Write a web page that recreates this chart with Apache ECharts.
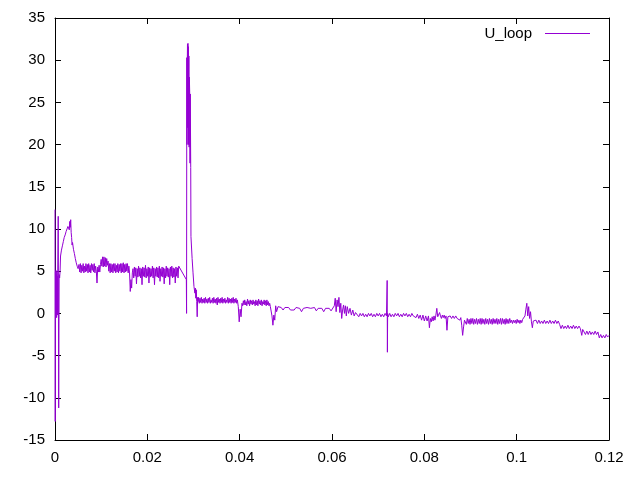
<!DOCTYPE html>
<html>
<head>
<meta charset="utf-8">
<script src="https://cdn.jsdelivr.net/npm/echarts@6/dist/echarts.min.js"></script>
<style>
html,body{margin:0;padding:0;background:#fff;}
#chart{width:640px;height:480px;}
</style>
</head>
<body>
<div id="chart"></div>
<script>
// Series name
const seriesName = 'U_loop';

// Tick labels
const xTickLabels = ['0', '0.02', '0.04', '0.06', '0.08', '0.1', '0.12'];
const yTickLabels = ['-15', '-10', '-5', '0', '5', '10', '15', '20', '25', '30', '35'];

// ---- Data: [time, U_loop] pairs, and sampled runs (start time, sample step, values) ----
const segStart = [
  [0,12.3],[0.00005,-12.8],[0.0001,4.9],[0.00015,-0.4],[0.0002,5.1],[0.00025,0.2],
  [0.0003,4.6],[0.00035,-0.5],[0.0004,5.0],[0.00045,0.8],[0.0005,4.4],[0.00055,-0.2],
  [0.0006,4.8],[0.0007,11.5],[0.0008,-11.2],[0.0009,4.6],[0.001,4.2],[0.0011,5.0],
  [0.0012,6.8],[0.0014,7.5],[0.0016,8.0],[0.0018,8.5],[0.002,9.0],[0.0022,9.3],
  [0.0024,9.7],[0.0026,10.0],[0.0028,10.3],[0.003,10.5],[0.0031,9.9],[0.0032,10.9],
  [0.0033,10.2],[0.0034,11.1],[0.0035,9.6],[0.0036,9.0],[0.0037,8.1],[0.0038,8.4],
  [0.004,7.6],[0.0042,7.1],[0.0044,6.5],[0.0046,6.0],[0.0048,5.6],[0.005,5.3]
];

const plateauStart = 0.0052, plateauStep = 0.00015;
const plateauValues = [
  5.8,4.9,5.9,4.8,5.7,5.0,5.9,4.8,5.6,4.9,5.9,5.0,5.8,4.8,5.9,4.9,5.7,4.8,5.9,5.1,5.8,4.9,5.9,4.8,5.6,5.0,
  3.6,5.5,4.9,5.7,4.9,5.8,
  6.4,5.6,6.7,5.5,6.7,5.6,6.6,5.5,6.5,5.7,6.2,
  5.0,5.9,4.8,5.9,4.9,5.8,4.8,5.9,5.0,5.9,4.8,5.7,4.9,5.9,4.8,5.8,5.0,5.9,4.8,5.9,4.9,6.0,4.8,5.8,4.9,5.9,5.0,5.9,4.8,5.6,
  4.8,2.6,4.0,3.0,4.8,
  5.3,4.2,5.5,4.4,5.4,3.5,5.3,4.3,5.6,4.4,
  5.4,4.2,5.3,3.4,5.5,4.4,5.4,4.3,5.7,4.2,
  5.3,4.4,5.5,3.6,5.4,4.3,5.3,4.4,5.6,4.2,
  5.4,3.4,5.3,4.4,5.5,4.3,5.4,4.2,5.6,3.8,
  5.3,4.4,5.5,4.3,5.4,3.5,5.3,4.2,5.6,4.4,
  5.4,4.3,5.3,3.4,5.5,4.4,5.6,4.2,5.4,4.3,
  5.3,3.6,5.5,4.4,5.4,4.2,5.6
];

const segSpike = [
  [0.02845,4.0],[0.0285,0.0],[0.02855,30.3],[0.0286,20.0],[0.02865,29.5],[0.0287,31.9],
  [0.02875,22.0],[0.0288,32.0],[0.02885,24.0],[0.0289,31.6],[0.02895,20.0],[0.029,30.5],
  [0.02905,19.7],[0.0291,28.0],[0.0292,25.6],[0.02925,17.8],[0.0293,26.0],[0.0294,17.3],
  [0.02945,9.1],[0.0295,8.9],[0.0297,6.5],[0.0299,4.8],[0.0301,3.2],[0.0303,2.4],
  [0.0304,3.0],[0.0305,1.8],[0.0306,2.8],[0.0307,1.4],[0.0308,-0.4],[0.0309,1.9],[0.031,1.4]
];

const decayStart = 0.0311, decayStep = 0.00015;
const decayValues = [
  1.9,1.2,1.8,1.3,1.9,1.2,1.7,1.3,1.8,1.2,
  1.9,1.3,1.7,1.2,1.8,1.3,1.9,1.2,1.6,1.3,
  1.8,1.2,1.9,1.3,1.7,1.2,1.8,1.0,1.9,1.3,
  1.7,1.2,1.8,1.3,1.9,1.2,1.7,1.3,1.8,1.2,
  1.6,1.3,1.9,1.2,1.8,1.3,1.7,1.2,1.8,1.3,
  1.9,1.2,1.7,1.3,1.8,1.2,1.6
];

const segDip1 = [
  [0.0397,0.8],[0.0399,-1.0],[0.0401,0.5],[0.0403,-0.4]
];

const shelfStart = 0.0405, shelfStep = 0.00015;
const shelfValues = [
  1.2,0.9,1.5,1.0,1.6,1.0,1.4,0.9,1.7,1.1,
  1.5,0.9,1.6,1.1,1.5,1.0,1.6,1.1,1.4,0.9,
  1.6,1.0,1.5,0.9,1.7,1.1,1.5,1.0,1.6,0.9,
  1.4,1.1,1.6,1.0,1.5,0.9,1.6,1.0,1.4,0.9,
  1.2,0.8
];

const segMiddle = [
  [0.0468,0.6],[0.047,-0.3],[0.0472,-1.4],[0.0474,-0.2],[0.0476,-0.8],[0.0478,0.9],
  [0.048,0.2],[0.0483,0.8],[0.0486,0.6],
  [0.049,0.7],[0.0494,0.4],[0.0498,0.7],[0.0502,0.5],[0.0506,0.7],[0.051,0.4],
  [0.0514,0.6],[0.0518,0.4],[0.0522,0.7],[0.0526,0.5],[0.053,0.6],[0.0534,0.2],
  [0.0538,0.6],[0.0542,0.4],[0.0546,0.7],[0.055,0.5],[0.0554,0.6],[0.0558,0.4],
  [0.0562,0.7],[0.0566,0.3],[0.057,0.6],[0.0574,0.4],[0.0578,0.6],[0.0582,0.2],
  [0.0586,0.6],[0.059,0.4],[0.0594,0.6],[0.0598,0.3],[0.0602,0.5],
  [0.0605,0.9],[0.0607,1.8],[0.0609,0.2],[0.0611,1.6],[0.0613,0.8],[0.0615,1.9],
  [0.0617,0.1],[0.0619,1.2],[0.0621,-0.6],[0.0623,0.4],[0.0625,1.0],[0.0627,0.0],
  [0.0629,0.9],[0.0631,-0.3],[0.0633,0.8],[0.0636,0.0],[0.0639,0.6],[0.0642,-0.2],
  [0.0645,0.4],[0.0648,-0.3],[0.0651,0.1]
];

const segFlat = [
  [0.0655,0.0],[0.0658,-0.4],[0.0661,0.0],[0.0664,-0.3],[0.0667,0.0],[0.067,-0.4],
  [0.0673,-0.1],[0.0676,-0.4],[0.0679,0.0],[0.0682,-0.3],[0.0685,0.0],[0.0688,-0.4],
  [0.0691,-0.1],[0.0694,-0.4],[0.0697,0.0],[0.07,-0.3],[0.0703,0.0],[0.0706,-0.4],
  [0.0709,-0.1],[0.0712,-0.4],[0.0715,0.0],[0.0718,-0.3],[0.07195,3.9],[0.072,-4.6],
  [0.07205,0.0],[0.0722,-0.4],[0.0725,0.0],[0.0728,-0.4],[0.0731,-0.1],[0.0734,-0.4],
  [0.0737,0.0],[0.074,-0.3],[0.0743,0.0],[0.0746,-0.4],[0.0749,-0.1],[0.0752,-0.4],
  [0.0755,0.0],[0.0758,-0.3],[0.0761,0.0],[0.0764,-0.4],[0.0767,-0.1],[0.077,-0.4],
  [0.0773,0.0],[0.0776,-0.3],[0.0779,-0.1],[0.0782,-0.5],[0.0785,-0.1],[0.0788,-0.6],
  [0.0791,-0.2],[0.0794,-0.8],[0.0797,-0.2],[0.08,-0.9],[0.0803,-0.3],[0.0806,-0.9],
  [0.0809,-0.3],[0.0811,-1.7],[0.0813,-0.6],[0.0815,-1.0],[0.0817,-0.4],[0.0819,-0.9],
  [0.0821,-0.3],[0.0823,-0.8],[0.0825,-0.2],[0.0827,0.6],[0.0829,-0.4],[0.0831,-0.6],
  [0.0833,0.1],[0.0835,-0.3],[0.0837,-0.6],[0.0839,-0.2],[0.0841,-0.5],[0.0843,-0.2],
  [0.0845,-0.6],[0.0847,-0.3],[0.0849,-2.0],[0.0851,-0.4],[0.0853,-0.6],[0.0856,-0.3],
  [0.0859,-0.6],[0.0862,-0.3],[0.0865,-0.6],[0.0868,-0.3],[0.0871,-0.6],[0.0874,-0.4],
  [0.0877,-0.8],[0.0879,-0.5],[0.0881,-1.4],[0.0883,-2.6],[0.0885,-1.6],[0.0887,-0.8]
];

const lowStart = 0.0889, lowStep = 0.0002;
const lowValues = [
  -0.6,-1.3,-0.6,-1.2,-0.7,-1.3,-0.6,-1.2,-0.6,-1.3,-0.7,
  -1.2,-0.6,-1.3,-0.7,-1.2,-0.6,-1.3,-0.6,-1.2,-0.7,
  -1.3,-0.6,-1.2,-0.7,-1.3,-0.6,-1.2,-0.7,-1.3,-0.6,
  -1.2,-0.7,-1.2,-0.6,-1.3,-0.7,-1.2,-0.6,-1.3,-0.6,
  -1.2,-0.7,-1.3,-0.6,-1.2,-0.7,-1.2,-0.6,-1.1,-0.8,
  -1.2,-0.8,-1.1,-0.8,-1.2,-0.7,-1.1,-0.8,-1.2,-0.8,
  -1.1,-0.7,-0.9
];

const segTail = [
  [0.1018,-0.3],[0.102,0.5],[0.1022,1.2],[0.1024,-0.3],[0.1026,0.8],[0.1028,-0.6],
  [0.103,0.2],[0.1032,-1.0],[0.1034,-1.7],[0.1036,-0.9],[0.1039,-1.0],
  [0.1042,-0.8],[0.1045,-1.2],[0.1048,-0.8],[0.1051,-1.2],[0.1054,-0.9],[0.1057,-1.2],
  [0.106,-0.8],[0.1063,-1.2],[0.1066,-0.9],[0.1069,-1.2],[0.1072,-0.8],[0.1075,-1.2],
  [0.1078,-0.9],[0.1081,-1.2],[0.1084,-0.8],[0.1087,-1.2],[0.109,-0.9],[0.1093,-1.3],
  [0.1096,-1.8],[0.1099,-1.4],[0.1102,-1.8],[0.1105,-1.5],[0.1108,-1.8],[0.1111,-1.4],
  [0.1114,-1.8],[0.1117,-1.5],[0.112,-1.8],[0.1123,-1.4],[0.1126,-1.8],[0.1129,-1.5],
  [0.1132,-1.8],[0.1135,-1.5],[0.1138,-1.8],[0.1141,-2.6],[0.1143,-1.9],
  [0.1146,-2.1],[0.1149,-2.5],[0.1152,-2.1],[0.1155,-2.5],[0.1158,-2.1],[0.1161,-2.5],
  [0.1164,-2.2],[0.1167,-2.5],[0.117,-2.1],[0.1173,-2.5],[0.1176,-2.2],
  [0.1179,-2.9],[0.1182,-2.5],[0.1185,-2.9],[0.1188,-2.6],[0.1191,-2.9],[0.1194,-2.5],
  [0.1197,-2.8],[0.12,-2.6]
];

// Build [time, value] pairs for sampled runs
function sampled(t0, dt, values) {
  return values.map((v, i) => [+(t0 + dt * i).toFixed(6), v]);
}

const uLoop = [].concat(
  segStart,
  sampled(plateauStart, plateauStep, plateauValues),
  segSpike,
  sampled(decayStart, decayStep, decayValues),
  segDip1,
  sampled(shelfStart, shelfStep, shelfValues),
  segMiddle,
  segFlat,
  sampled(lowStart, lowStep, lowValues),
  segTail
);

const FONT = 'Liberation Sans';
const COLOR = '#9400d3';

function fmtX(v) {
  const idx = Math.round(v / 0.02);
  return xTickLabels[idx] !== undefined ? xTickLabels[idx] : '';
}
function fmtY(v) {
  const idx = Math.round((v + 15) / 5);
  return yTickLabels[idx] !== undefined ? yTickLabels[idx] : '';
}

const axisCommon = {
  axisLine: { show: true, onZero: false, lineStyle: { color: '#000', width: 1 } },
  axisTick: { show: true, inside: true, length: 6, lineStyle: { color: '#000', width: 1 } },
  splitLine: { show: false }
};

const chart = echarts.init(document.getElementById('chart'), null, { renderer: 'canvas' });
chart.setOption({
  animation: false,
  backgroundColor: '#fff',
  grid: { left: 55, right: 31, top: 18, bottom: 40, containLabel: false },
  legend: {
    show: true,
    data: [seriesName],
    right: 45,
    top: 21,
    align: 'right',
    icon: 'rect',
    itemWidth: 45,
    itemHeight: 1,
    itemGap: 0,
    textStyle: { fontFamily: FONT, fontSize: 15, color: '#000', padding: [0, 8, 0, 0] }
  },
  xAxis: [
    Object.assign({
      type: 'value', min: 0, max: 0.12, interval: 0.02, position: 'bottom',
      axisLabel: { show: true, margin: 10, color: '#000', fontFamily: FONT, fontSize: 15, formatter: fmtX }
    }, axisCommon),
    Object.assign({
      type: 'value', min: 0, max: 0.12, interval: 0.02, position: 'top',
      axisLabel: { show: false }
    }, axisCommon)
  ],
  yAxis: [
    Object.assign({
      type: 'value', min: -15, max: 35, interval: 5, position: 'left',
      axisLabel: { show: true, margin: 10, color: '#000', fontFamily: FONT, fontSize: 15, formatter: fmtY }
    }, axisCommon),
    Object.assign({
      type: 'value', min: -15, max: 35, interval: 5, position: 'right',
      axisLabel: { show: false }
    }, axisCommon)
  ],
  series: [{
    name: seriesName,
    type: 'line',
    xAxisIndex: 0,
    yAxisIndex: 0,
    data: uLoop,
    showSymbol: false,
    symbol: 'none',
    lineStyle: { color: COLOR, width: 1 },
    itemStyle: { color: COLOR },
    silent: true
  }]
});
</script>
</body>
</html>
